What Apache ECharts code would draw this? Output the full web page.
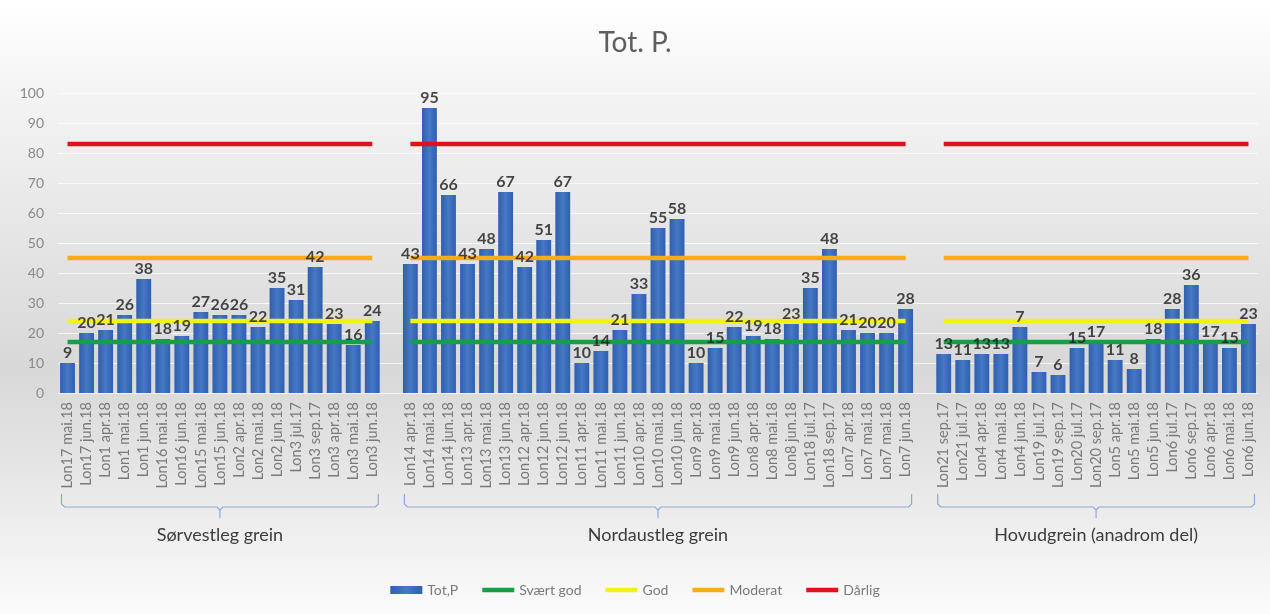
<!DOCTYPE html>
<html>
<head>
<meta charset="utf-8">
<script src="https://cdn.jsdelivr.net/npm/echarts@6/dist/echarts.min.js"></script>
<style>
html,body{margin:0;padding:0;background:#fff;}
#c{width:1270px;height:614px;}
</style>
</head>
<body>
<div id="c"></div>
<script>
const groupNames = ['Sørvestleg grein', 'Nordaustleg grein', 'Hovudgrein (anadrom del)'];

const cats1 = ['Lon17 mai.18','Lon17 jun.18','Lon1 apr.18','Lon1 mai.18','Lon1 jun.18','Lon16 mai.18','Lon16 jun.18','Lon15 mai.18','Lon15 jun.18','Lon2 apr.18','Lon2 mai.18','Lon2 jun.18','Lon3 jul.17','Lon3 sep.17','Lon3 apr.18','Lon3 mai.18','Lon3 jun.18'];
const vals1 = [10,20,21,26,38,18,19,27,26,26,22,35,31,42,23,16,24];
const labs1 = [9,20,21,26,38,18,19,27,26,26,22,35,31,42,23,16,24];

const cats2 = ['Lon14 apr.18','Lon14 mai.18','Lon14 jun.18','Lon13 apr.18','Lon13 mai.18','Lon13 jun.18','Lon12 apr.18','Lon12 jun.18','Lon12 jun.18','Lon11 apr.18','Lon11 mai.18','Lon11 jun.18','Lon10 apr.18','Lon10 mai.18','Lon10 jun.18','Lon9 apr.18','Lon9 mai.18','Lon9 jun.18','Lon8 apr.18','Lon8 mai.18','Lon8 jun.18','Lon18 jul.17','Lon18 sep.17','Lon7 apr.18','Lon7 mai.18','Lon7 mai.18','Lon7 jun.18'];
const vals2 = [43,95,66,43,48,67,42,51,67,10,14,21,33,55,58,10,15,22,19,18,23,35,48,21,20,20,28];
const labs2 = [43,95,66,43,48,67,42,51,67,10,14,21,33,55,58,10,15,22,19,18,23,35,48,21,20,20,28];

const cats3 = ['Lon21 sep.17','Lon21 jul.17','Lon4 apr.18','Lon4 mai.18','Lon4 jun.18','Lon19 jul.17','Lon19 sep.17','Lon20 jul.17','Lon20 sep.17','Lon5 apr.18','Lon5 mai.18','Lon5 jun.18','Lon6 jul.17','Lon6 sep.17','Lon6 apr.18','Lon6 mai.18','Lon6 jun.18'];
const vals3 = [13,11,13,13,22,7,6,15,17,11,8,18,28,36,17,15,23];
const labs3 = [13,11,13,13,7,7,6,15,17,11,8,18,28,36,17,15,23];

const thresholdNames = ['Svært god','God','Moderat','Dårlig'];
const thresholdValues = [17, 24, 45, 83];
const thresholdColors = ['#13a048','#f2f21a','#f7ad1b','#e0121e'];

const yTicks = [0,10,20,30,40,50,60,70,80,90,100];

// build combined arrays with one empty category between groups
const groups = [
  {cats: cats1, vals: vals1, labs: labs1},
  {cats: cats2, vals: vals2, labs: labs2},
  {cats: cats3, vals: vals3, labs: labs3}
];
const categories = [], barData = [], labelData = [], groupIdx = [];
groups.forEach((g, gi) => {
  if (gi > 0) { categories.push(''); barData.push('-'); labelData.push('-'); groupIdx.push(-1); }
  g.cats.forEach((c, i) => {
    categories.push(c); barData.push(g.vals[i]); labelData.push(g.labs[i]); groupIdx.push(gi);
  });
});

const FONT = 'Lato, "Open Sans", sans-serif';
const LINE_ICON = 'path://M0,0h32v4.5h-32z';

const lineSeries = thresholdNames.map((n, ti) => ({
  name: n,
  type: 'line',
  data: groupIdx.map(g => g < 0 ? null : thresholdValues[ti]),
  connectNulls: false,
  symbol: 'none',
  lineStyle: {color: thresholdColors[ti], width: 4.5},
  itemStyle: {color: thresholdColors[ti]},
  z: 3,
  silent: true
}));

const chart = echarts.init(document.getElementById('c'));
chart.setOption({
  animation: false,
  backgroundColor: {
    type: 'linear', x: 0, y: 0, x2: 0, y2: 1,
    colorStops: [
      {offset: 0, color: '#ffffff'},
      {offset: 0.15, color: '#f4f4f4'},
      {offset: 0.6, color: '#d8d8d8'},
      {offset: 0.75, color: '#e4e4e4'},
      {offset: 1, color: '#fbfbfb'}
    ]
  },
  title: {
    text: 'Tot. P.',
    left: 'center',
    top: 24,
    textStyle: {fontFamily: FONT, fontSize: 28, fontWeight: 'normal', color: '#5e5e5e'}
  },
  grid: {left: 58, right: 12, top: 93, bottom: 221, containLabel: false},
  xAxis: {
    type: 'category',
    data: categories,
    axisLine: {show: false},
    axisTick: {show: false},
    axisLabel: {
      interval: 0, rotate: 90, margin: 9,
      fontFamily: FONT, fontSize: 14.5, color: '#7a7a7a'
    }
  },
  yAxis: {
    type: 'value', min: 0, max: 100, interval: 10,
    axisLine: {show: false},
    axisTick: {show: false},
    axisLabel: {fontFamily: FONT, fontSize: 14, color: '#8a8a8a', margin: 14,
      formatter: v => yTicks.indexOf(v) >= 0 ? String(v) : ''},
    splitLine: {lineStyle: {color: 'rgba(255,255,255,0.75)', width: 1}}
  },
  legend: {
    bottom: 12,
    left: 'center',
    itemWidth: 32,
    itemHeight: 8,
    itemGap: 24,
    textStyle: {fontFamily: FONT, fontSize: 14, color: '#7a7a7a'},
    data: [{name: 'Tot,P', icon: 'rect'}].concat(thresholdNames.map(n => ({name: n, icon: LINE_ICON})))
  },
  series: [
    {
      name: 'Tot,P',
      type: 'bar',
      data: barData,
      barCategoryGap: '22%',
      itemStyle: {
        color: {
          type: 'linear', x: 0, y: 0, x2: 1, y2: 0,
          colorStops: [
            {offset: 0, color: '#2f5fae'},
            {offset: 0.5, color: '#4678c6'},
            {offset: 1, color: '#2f5fae'}
          ]
        }
      },
      z: 2
    }
  ].concat(lineSeries).concat([
    {
      name: 'labels',
      type: 'scatter',
      data: barData,
      symbolSize: 0,
      silent: true,
      z: 10,
      label: {
        show: true, position: 'top', distance: 2,
        fontFamily: FONT, fontSize: 16, fontWeight: 'bold', color: '#1a1a1a',
        formatter: p => String(labelData[p.dataIndex])
      }
    }
  ])
});

// group brackets under the category labels, positioned from the axis
function drawBrackets() {
  const gfx = [];
  let start = 0;
  groups.forEach((g, gi) => {
    const first = start, last = start + g.cats.length - 1;
    start = last + 2;
    const x0 = chart.convertToPixel({xAxisIndex: 0}, first) - 6;
    const x1 = chart.convertToPixel({xAxisIndex: 0}, last) + 6;
    const xm = (x0 + x1) / 2;
    const yTop = 494, yLine = 507, yTick = 518;
    gfx.push({
      type: 'polyline', silent: true,
      shape: {points: [[x0, yTop], [x0, yLine - 3], [x0 + 3, yLine], [xm - 3, yLine], [xm, yLine + 3], [xm, yTick]]},
      style: {stroke: '#8fa9d6', lineWidth: 1.2, fill: null}
    });
    gfx.push({
      type: 'polyline', silent: true,
      shape: {points: [[x1, yTop], [x1, yLine - 3], [x1 - 3, yLine], [xm + 3, yLine], [xm, yLine + 3]]},
      style: {stroke: '#8fa9d6', lineWidth: 1.2, fill: null}
    });
    gfx.push({
      type: 'text', silent: true,
      x: xm, y: 535,
      style: {text: groupNames[gi], fontFamily: FONT, fontSize: 18, fill: '#3c3c3c', align: 'center', verticalAlign: 'middle'}
    });
  });
  chart.setOption({graphic: gfx});
}
drawBrackets();
</script>
</body>
</html>
